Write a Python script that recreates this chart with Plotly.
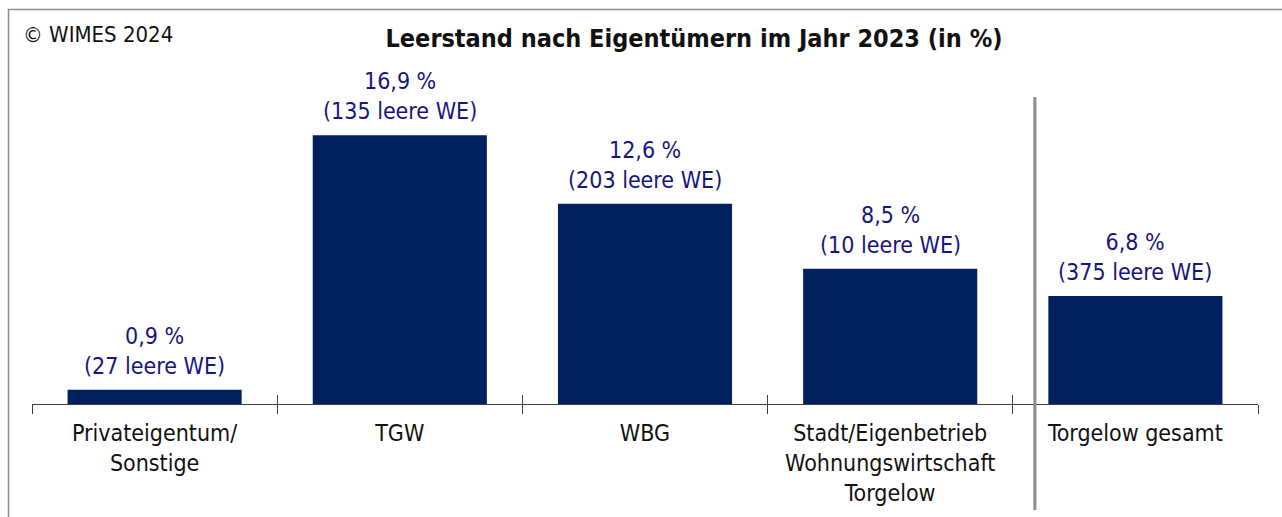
import plotly.graph_objects as go

# Vacancy by owner group, 2023
categories = [
    "Privateigentum/<br>Sonstige",
    "TGW",
    "WBG",
    "Stadt/Eigenbetrieb<br>Wohnungswirtschaft<br>Torgelow",
    "Torgelow gesamt",
]
vacancy_pct = [0.9, 16.9, 12.6, 8.5, 6.8]
vacant_units = [27, 135, 203, 10, 375]

BAR_COLOR = "#002060"
LABEL_COLOR = "#161680"
AXIS_COLOR = "#404040"
FONT = "DejaVu Sans Condensed, DejaVu Sans, sans-serif"

W, H = 1282, 517
ML, MR, MT, MB = 32, 24, 86, 113
plot_w = W - ML - MR
plot_h = H - MT - MB

xs = list(range(len(categories)))
boundaries = [i - 0.5 for i in range(len(categories) + 1)]


def px_to_paper_x(px):
    return (px - ML) / plot_w


def px_to_paper_y(py):
    return (H - MB - py) / plot_h


fig = go.Figure()
fig.add_trace(go.Bar(
    x=xs, y=vacancy_pct, width=0.71,
    marker=dict(color=BAR_COLOR, line=dict(width=0)),
    hoverinfo="skip", showlegend=False,
))

# value labels above each bar
for x, v, n in zip(xs, vacancy_pct, vacant_units):
    fig.add_annotation(
        x=x, y=v, xref="x", yref="y",
        text=f"{v:.1f}".replace(".", ",") + f" %<br>({n} leere WE)",
        showarrow=False, yanchor="bottom", yshift=9,
        font=dict(family=FONT, size=23, color=LABEL_COLOR),
    )

# copyright note
fig.add_annotation(
    x=px_to_paper_x(21), y=px_to_paper_y(34), xref="paper", yref="paper",
    text="© WIMES 2024", showarrow=False, xanchor="left", yanchor="middle",
    font=dict(family=FONT, size=22, color="#111111"),
)

# frame around the graphic
fig.add_shape(
    type="rect", xref="paper", yref="paper",
    x0=px_to_paper_x(8.5), x1=px_to_paper_x(1300),
    y0=px_to_paper_y(560), y1=px_to_paper_y(9.5),
    line=dict(color="#8c8c8c", width=1.5), layer="below",
)

# separator between owner groups and the total
fig.add_shape(
    type="line", xref="x", yref="paper",
    x0=3.59, x1=3.59, y0=px_to_paper_y(510), y1=px_to_paper_y(97),
    line=dict(color="#8c8c8c", width=3),
)

fig.update_layout(
    width=W, height=H,
    margin=dict(l=ML, r=MR, t=MT, b=MB, autoexpand=False),
    paper_bgcolor="white", plot_bgcolor="white",
    font=dict(family=FONT, size=23, color="#111111"),
    title=dict(
        text="<b>Leerstand nach Eigentümern im Jahr 2023 (in %)</b>",
        x=px_to_paper_x(694), xref="paper", xanchor="center",
        y=1 - 38 / H, yref="container", yanchor="middle",
        font=dict(family=FONT, size=25, color="#111111"),
    ),
    xaxis=dict(
        range=[-0.5, 4.5], tickmode="array", tickvals=boundaries,
        showticklabels=False, ticks="outside", ticklen=9,
        tickcolor=AXIS_COLOR, tickwidth=1,
        showline=True, linecolor=AXIS_COLOR, linewidth=1,
        showgrid=False, zeroline=False, fixedrange=True,
    ),
    xaxis2=dict(
        overlaying="x", side="bottom", matches="x", range=[-0.5, 4.5],
        tickmode="array", tickvals=boundaries, showticklabels=False,
        ticks="inside", ticklen=9, tickcolor=AXIS_COLOR, tickwidth=1,
        showline=False, showgrid=False, zeroline=False,
    ),
    xaxis3=dict(
        overlaying="x", side="bottom", matches="x", range=[-0.5, 4.5],
        tickmode="array", tickvals=xs, ticktext=categories,
        ticks="", ticklabelstandoff=13,
        tickfont=dict(family=FONT, size=23, color="#111111"),
        showline=False, showgrid=False, zeroline=False,
    ),
    yaxis=dict(range=[0, 20], visible=False, fixedrange=True),
    bargap=0.29,
)

# invisible traces so the overlay axes are rendered
fig.add_trace(go.Scatter(x=[None], y=[None], xaxis="x2", showlegend=False, hoverinfo="skip"))
fig.add_trace(go.Scatter(x=[None], y=[None], xaxis="x3", showlegend=False, hoverinfo="skip"))

fig.write_html("out.html")
